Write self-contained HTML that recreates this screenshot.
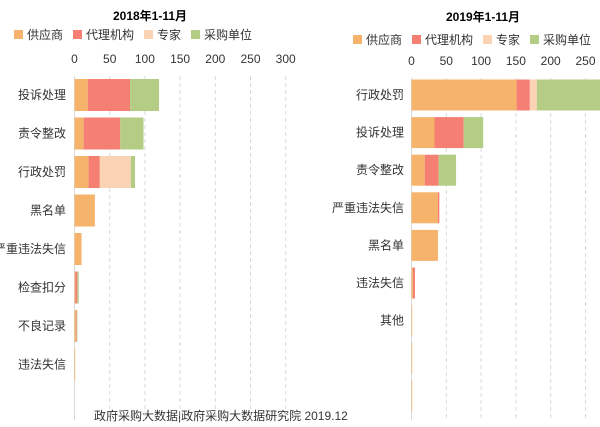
<!DOCTYPE html>
<html><head><meta charset="utf-8"><style>
html,body{margin:0;padding:0;background:#fff;}
svg{display:block;font-family:"Liberation Sans","Noto Sans CJK SC",sans-serif;}
</style></head><body>
<svg id="c" width="600" height="427" viewBox="0 0 600 427">
<text x="150" y="20" text-anchor="middle" font-size="12" font-weight="bold">2018年1-11月</text>
<text x="483" y="21" text-anchor="middle" font-size="12" font-weight="bold">2019年1-11月</text>
<text x="94" y="420" font-size="12" fill="#333">政府采购大数据|政府采购大数据研究院 2019.12</text>
</svg>
<script>
const seriesNames=["供应商","代理机构","专家","采购单位"];
const colors=["#F5B36B","#F47F72","#FAD3B4","#B4CC83"];
const ticks=[0,50,100,150,200,250,300];
const leftCats=["投诉处理","责令整改","行政处罚","黑名单","严重违法失信","检查扣分","不良记录","违法失信"];
const leftSupplier=[19,13,20,29,10,1,2,1];
const leftAgency=[60,52,16,0,0,3,1,0];
const leftExpert=[0,0,44,0,0,0,0,0];
const leftBuyer=[41,33,6,0,0,2,1,0];
const rightCats=["行政处罚","投诉处理","责令整改","严重违法失信","黑名单","违法失信","其他","",""];
const rightSupplier=[151,33,19,38,38,2,1,1,1];
const rightAgency=[19,42,20,2,0,3,0,0,0];
const rightExpert=[10,0,0,0,0,0,0,0,0];
const rightBuyer=[100,28,25,0,0,0,0,0,0];

const svg=document.getElementById('c');
const NS='http://www.w3.org/2000/svg';
function mk(t,a){const e=document.createElementNS(NS,t);for(const k in a)e.setAttribute(k,a[k]);svg.appendChild(e);return e;}

function panel(cfg){
  const x=v=>cfg.x0+v*cfg.k;
  // legend
  let lx=cfg.legX;
  seriesNames.forEach((n,i)=>{
    const r=mk('rect',{x:lx,y:cfg.legY-5,width:9,height:9,fill:colors[i]});
    
    
    const t=mk('text',{x:lx+13,y:cfg.legY+4,'font-size':12,fill:'#333'});
    t.textContent=n;
    
    
    lx+=13+n.length*12+10;
  });
  ticks.forEach(v=>{
    if(x(v)>600)return;
    const t=mk('text',{x:x(v),y:cfg.tickY,'font-size':12,'text-anchor':'middle',fill:'#333'});
    t.textContent=v;
    
    
    if(v>0){
      const g=mk('line',{x1:x(v),x2:x(v),y1:cfg.gridTop,y2:cfg.gridBot,stroke:'#d9d9d9','stroke-dasharray':'4,3'});
      
      
    }
  });
  const ax=mk('line',{x1:x(0),x2:x(0),y1:cfg.gridTop,y2:cfg.gridBot,stroke:'#d9d9d9'});
  
  
  const series=cfg.series;
  cfg.cats.forEach((c,i)=>{
    const cy=cfg.row0+i*cfg.step;
    let acc=0;
    series.forEach((s,j)=>{
      const v=s[i];
      if(v>0){
        const w=Math.min(x(acc+v),600)-x(acc);
        if(w>0){
          const r=mk('rect',{x:x(acc),y:cy-cfg.bh/2,width:w,height:cfg.bh,fill:colors[j]});
          
          
        }
      }
      acc+=v;
    });
    if(c){
      const t=mk('text',{x:cfg.labX,y:cy+4,'font-size':12,'text-anchor':'end',fill:'#333'});
      t.textContent=c;
      
      
    }
  });
}
panel({id:'2018',x0:74.5,k:0.704,legX:14,legY:35,tickY:63,gridTop:76,gridBot:420,row0:95,step:38.5,bh:32,labX:66,cats:leftCats,series:[leftSupplier,leftAgency,leftExpert,leftBuyer]});
panel({id:'2019',x0:411.5,k:0.696,legX:353,legY:40,tickY:65,gridTop:78,gridBot:420,row0:95,step:37.6,bh:31,labX:404,cats:rightCats,series:[rightSupplier,rightAgency,rightExpert,rightBuyer]});
</script>
</body></html>
